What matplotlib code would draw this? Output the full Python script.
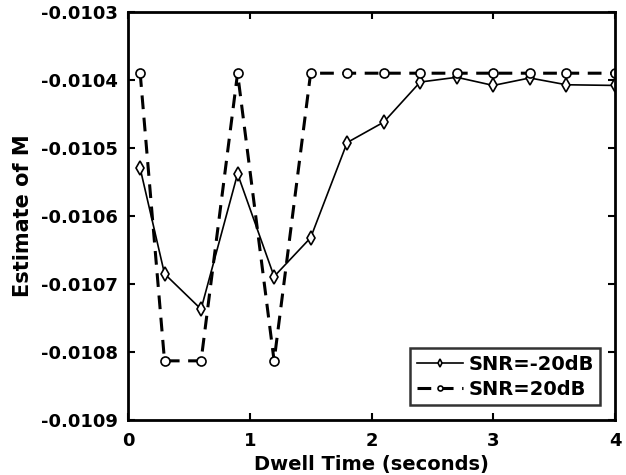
import matplotlib
matplotlib.use("Agg")
import matplotlib.pyplot as plt

# Dwell times (seconds)
dwell_time = [0.1, 0.3, 0.6, 0.9, 1.2, 1.5, 1.8, 2.1, 2.4, 2.7, 3.0, 3.3, 3.6, 4.0]

# Estimates of M at each dwell time
m_snr_low = [-0.01053, -0.010685, -0.010737, -0.010538, -0.010689, -0.010632,
             -0.010492, -0.010462, -0.010403, -0.010396, -0.010408, -0.010397,
             -0.010407, -0.010408]
m_snr_high = [-0.01039, -0.010813, -0.010813, -0.01039, -0.010813, -0.01039,
              -0.01039, -0.01039, -0.01039, -0.01039, -0.01039, -0.01039,
              -0.01039, -0.01039]

labels = ["SNR=-20dB", "SNR=20dB"]
y_ticks = [-0.0103, -0.0104, -0.0105, -0.0106, -0.0107, -0.0108, -0.0109]
x_ticks = [0, 1, 2, 3, 4]

plt.rcParams["font.family"] = ["DejaVu Sans"]
plt.rcParams["font.weight"] = "bold"
plt.rcParams["axes.unicode_minus"] = False

fig = plt.figure(figsize=(6.26, 4.75), dpi=100)
ax = fig.add_axes([128 / 626, 1 - 420 / 475, (615 - 128) / 626, (420 - 12) / 475])

ax.plot(dwell_time, m_snr_low, color="black", linewidth=1.2, marker="d",
        markersize=7, markerfacecolor="white", markeredgecolor="black",
        markeredgewidth=1.2, label=labels[0])
ax.plot(dwell_time, m_snr_high, color="black", linewidth=2.2,
        linestyle=(0, (4.5, 2.8)), marker="o", markersize=6.5,
        markerfacecolor="white", markeredgecolor="black",
        markeredgewidth=1.2, label=labels[1])

ax.set_xlim(0, 4)
ax.set_ylim(-0.0109, -0.0103)
ax.set_xticks(x_ticks)
ax.set_xticklabels([str(t) for t in x_ticks])
ax.set_yticks(y_ticks)
ax.set_yticklabels([f"{t:.4f}" for t in y_ticks])

ax.tick_params(direction="in", length=5, width=1.5, top=True, right=True,
               labelsize=13)
ax.tick_params(axis="y", pad=7)
ax.tick_params(axis="x", pad=9)
for lbl in ax.get_xticklabels() + ax.get_yticklabels():
    lbl.set_fontweight("bold")
for sp in ax.spines.values():
    sp.set_linewidth(2)

ax.set_xlabel("Dwell Time (seconds)", fontsize=14, fontweight="bold", labelpad=3)
ax.set_ylabel("Estimate of M", fontsize=15, fontweight="bold", labelpad=6)

leg = ax.legend(loc="lower right", fontsize=14, frameon=True, fancybox=False,
                edgecolor="black", handlelength=2.4, handletextpad=0.25,
                borderpad=0.35, labelspacing=0.3, markerscale=0.55,
                borderaxespad=0.75)
leg.get_frame().set_linewidth(1.8)
for t in leg.get_texts():
    t.set_fontweight("bold")

fig.savefig("out.png", dpi=100)
